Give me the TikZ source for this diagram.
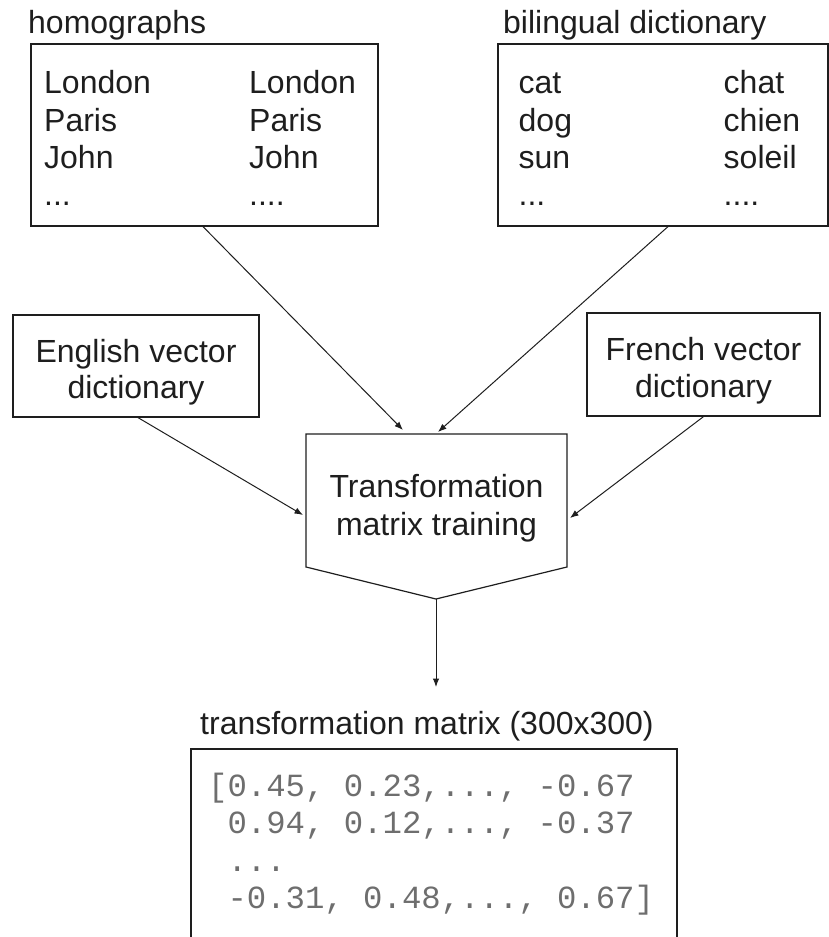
\documentclass[tikz,border=0pt]{standalone}
\usepackage{fontspec}
\setmainfont{Liberation Sans}
\newfontfamily\monof{Liberation Mono}
\usetikzlibrary{arrows.meta,calc}
\definecolor{ink}{RGB}{30,30,30}
\definecolor{monoink}{RGB}{110,110,110}
\tikzset{
  box/.style={draw=ink, line width=1.2pt, inner sep=0pt, fill=none},
  txt/.style={inner sep=0pt, text=ink, font=\fontsize{32}{37.5}\selectfont},
  ctxt/.style={txt, align=center, anchor=base},
  lt/.style={txt, anchor=base west},
  mono/.style={inner sep=0pt, anchor=base west, text=monoink, font=\monof\fontsize{32.3}{37.5}\selectfont},
  conn/.style={draw=ink, line width=1pt, -{Latex[length=8.5pt,width=6.5pt]}}
}
\begin{document}
\begin{tikzpicture}[x=1pt,y=-1pt]
\useasboundingbox (0,0) rectangle (829,937);
% homographs
\node[lt] (homlab) at (28,33.5) {homographs};
\node[box, minimum width=347pt, minimum height=182pt] (hom) at (204.5,135) {};
\node[lt] (h1a) at (44,93.5) {London};
\node[lt] (h2a) at (44,131) {Paris};
\node[lt] (h3a) at (44,168.5) {John};
\node[lt] (h4a) at (44,205.5) {...};
\node[lt] (h1b) at (249,93.5) {London};
\node[lt] (h2b) at (249,131) {Paris};
\node[lt] (h3b) at (249,168.5) {John};
\node[lt] (h4b) at (249,205.5) {....};
% bilingual
\node[lt] (billab) at (503,33.5) {bilingual dictionary};
\node[box, minimum width=330pt, minimum height=182pt] (bil) at (663,135) {};
\node[lt] (b1a) at (518.5,93.5) {cat};
\node[lt] (b2a) at (518.5,131) {dog};
\node[lt] (b3a) at (518.5,168.5) {sun};
\node[lt] (b4a) at (518.5,205.5) {...};
\node[lt] (b1b) at (723.5,93.5) {chat};
\node[lt] (b2b) at (723.5,131) {chien};
\node[lt] (b3b) at (723.5,168.5) {soleil};
\node[lt] (b4b) at (723.5,205.5) {....};
% English / French
\node[box, minimum width=246pt, minimum height=102pt] (eng) at (136,366) {};
\node[ctxt] (engt1) at (136,362) {English vector};
\node[ctxt] (engt2) at (136,398) {dictionary};
\node[box, minimum width=233pt, minimum height=103pt] (fre) at (703.5,364.5) {};
\node[ctxt] (fret1) at (703.5,360) {French vector};
\node[ctxt] (fret2) at (703.5,397) {dictionary};
% Transformation pentagon
\coordinate (pTL) at (306,434);
\coordinate (pTR) at (567,434);
\coordinate (pBR) at (567,567);
\coordinate (pB) at (436,599);
\coordinate (pBL) at (306,567);
\draw[draw=ink, line width=1.2pt, line join=miter] (pTL) -- (pTR) -- (pBR) -- (pB) -- (pBL) -- cycle;
\node[ctxt] (tmt1) at (436.5,497) {Transformation};
\node[ctxt] (tmt2) at (436.5,535) {matrix training};
% arrow targets
\coordinate (inH) at (403,430);
\coordinate (inB) at (438,432);
\coordinate (inE) at (303,515);
\coordinate (inF) at (570,518);
\coordinate (outM) at (436,687);
% connectors
\draw[conn] ($(hom.south)+(-1.5,0)$) -- (inH);
\draw[conn] ($(bil.south)+(5,0)$) -- (inB);
\draw[conn] ($(eng.south)+(2,0)$) -- (inE);
\draw[conn] (fre.south) -- (inF);
\draw[conn] (pB) -- (outM);
% result
\node[lt] (caplab) at (200,734.5) {transformation matrix (300x300)};
\coordinate (rBL) at (191,937);
\coordinate (rTL) at (191,749);
\coordinate (rTR) at (677,749);
\coordinate (rBR) at (677,937);
\draw[draw=ink, line width=1.2pt] (rBL) -- (rTL) -- (rTR) -- (rBR);
\node[mono] (m1) at (208,796) {[0.45, 0.23,..., -0.67};
\node[mono] (m2) at (208,833.5) {\ 0.94, 0.12,..., -0.37};
\node[mono] (m3) at (208,871) {\ ...};
\node[mono] (m4) at (208,908.5) {\ -0.31, 0.48,..., 0.67]};
\end{tikzpicture}
\end{document}
